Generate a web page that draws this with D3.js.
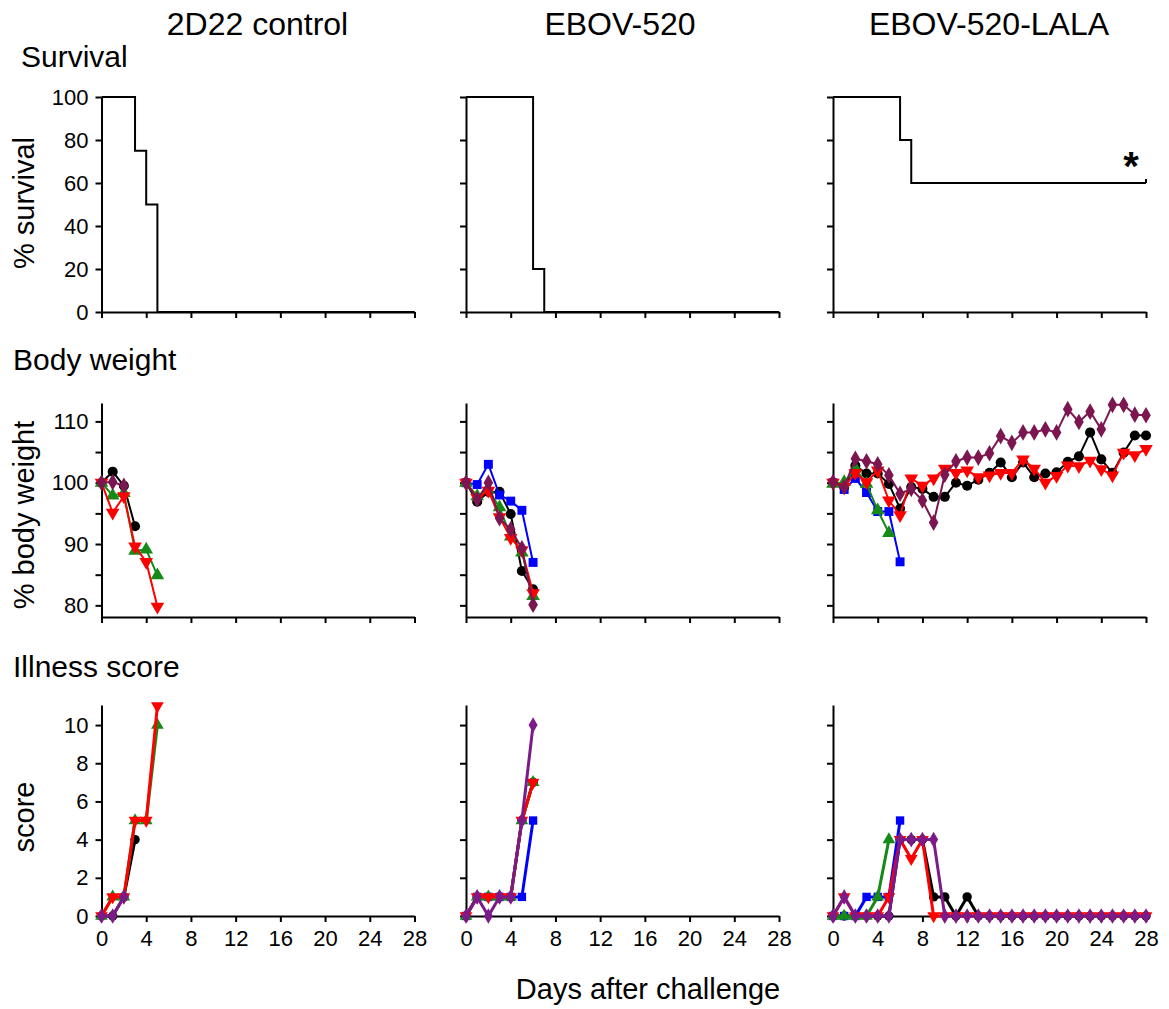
<!DOCTYPE html>
<html>
<head>
<meta charset="utf-8">
<script src="https://cdn.jsdelivr.net/npm/d3@7/dist/d3.min.js"></script>
<style>
body { margin: 0; background: #fff; }
text { font-family: Arial, "Liberation Sans", sans-serif; fill: #000; }
</style>
</head>
<body>
<svg id="viz" width="1169" height="1009"></svg>
<script>
// ---------- data (index of each value = day after challenge) ----------
const groups = ["2D22 control", "EBOV-520", "EBOV-520-LALA"];
const dayTicks = [0, 4, 8, 12, 16, 20, 24, 28];

// Kaplan-Meier steps
const survDays = [[0, 3, 4, 5, 28], [0, 6, 7, 28], [0, 6, 7, 28]];
const survPct = [[100, 75, 50, 0, 0], [100, 20, 0, 0], [100, 80, 60, 60]];
const survCensored = [false, false, true];
const survStar = ["", "", "*"];

// % body weight, 2D22 control
const bwCtrlBlack = [100, 101.8, 99.5, 92.9];
const bwCtrlGreen = [100, 97.9, 98.3, 88.9, 89.1, 84.9];
const bwCtrlRed = [100, 95.1, 97.8, 89.6, 87.1, 79.8];
const bwCtrlMaroon = [100, 100.1, 99.5];

// % body weight, EBOV-520
const bw520Black = [100, 96.9, 98.5, 98.5, 94.9, 85.6, 82.6];
const bw520Blue = [100, 99.7, 103.0, 98.0, 97.0, 95.5, 87.0];
const bw520Green = [100, 97.8, 98.8, 96.0, 91.2, 88.6, 81.5];
const bw520Red = [100, 97.5, 98.7, 94.4, 91.0, 89.0, 82.0];
const bw520Maroon = [100, 97.3, 100.0, 94.2, 92.4, 89.3, 80.1];

// % body weight, EBOV-520-LALA
const bwLalaBlack = [100, 99.3, 102.8, 101.5, 101.5, 99.8, 95.8, 99.3, 99.0, 97.7, 97.7, 100.0, 99.5, 100.5,
    101.6, 103.3, 100.9, 103.3, 100.9, 101.5, 101.7, 103.4, 104.3, 108.2, 103.8, 101.6, 104.9, 107.7, 107.7];
const bwLalaBlue = [100, 98.9, 100.7, 98.4, 95.3, 95.3, 87.1];
const bwLalaGreen = [99.8, 100.1, 102.3, 99.8, 95.5, 91.8];
const bwLalaRed = [100, 99.3, 101.6, 100.1, 102.0, 97.1, 94.7, 100.7, 99.5, 100.7, 102.3, 101.6, 102.0, 100.9,
    101.2, 101.6, 101.6, 103.8, 102.3, 100.0, 101.1, 102.8, 102.7, 103.6, 102.2, 101.2, 104.9, 104.5, 105.5];
const bwLalaMaroon = [100.1, 99.3, 103.9, 103.5, 103.0, 101.2, 98.2, 99.0, 97.1, 93.5, 101.3, 103.5, 104.1, 104.1,
    104.8, 107.6, 106.5, 108.2, 108.2, 108.7, 108.2, 112.0, 109.9, 111.6, 108.7, 112.7, 112.7, 111.1, 111.0];

// illness score, 2D22 control
const isCtrlBlack = [0, 0, 1, 4];
const isCtrlGreen = [0, 1, 1, 5, 5, 10];
const isCtrlRed = [0, 1, 1, 5, 5, 11];
const isCtrlPurple = [0, 0, 1];

// illness score, EBOV-520
const is520Black = [0, 1, 1, 1, 1, 5, 7];
const is520Blue = [0, 1, 1, 1, 1, 1, 5];
const is520Green = [0, 1, 1, 1, 1, 5, 7];
const is520Red = [0, 1, 1, 1, 1, 5, 7];
const is520Purple = [0, 1, 0, 1, 1, 5, 10];

// illness score, EBOV-520-LALA
const isLalaBlack = [0, 0, 0, 0, 0, 0, 4, 4, 4, 1, 1, 0, 1, 0, 0, 0, 0, 0, 0, 0, 0, 0, 0, 0, 0, 0, 0, 0, 0];
const isLalaBlue = [0, 0, 0, 1, 1, 1, 5];
const isLalaGreen = [0, 0, 0, 0, 1, 4];
const isLalaRed = [0, 1, 0, 0, 0, 1, 4, 3, 4, 0, 0, 0, 0, 0, 0, 0, 0, 0, 0, 0, 0, 0, 0, 0, 0, 0, 0, 0, 0];
const isLalaPurple = [0, 1, 0, 0, 0, 0, 4, 4, 4, 4, 0, 0, 0, 0, 0, 0, 0, 0, 0, 0, 0, 0, 0, 0, 0, 0, 0, 0, 0];

// ---------- styling / layout ----------
const FONT_TICK = 22;
const FONT_TITLE = 32;
const FONT_BIG = 29;
const COLORS = {
    black: "#000000", blue: "#0000ff", green: "#168a16",
    red: "#ff0000", maroon: "#7c1650", purple: "#7d1a8a"
};
const SHAPES = {
    black: d3.symbolCircle, blue: d3.symbolSquare, green: d3.symbolTriangle,
    red: d3.symbolTriangle, maroon: d3.symbolDiamond, purple: d3.symbolDiamond
};

const colX = [101.5, 466, 833];
const panelW = 313;

function animal(color, values) { return { color: color, values: values }; }

const bodyWeight = [
    [animal("black", bwCtrlBlack), animal("green", bwCtrlGreen), animal("red", bwCtrlRed), animal("maroon", bwCtrlMaroon)],
    [animal("black", bw520Black), animal("blue", bw520Blue), animal("green", bw520Green), animal("red", bw520Red), animal("maroon", bw520Maroon)],
    [animal("black", bwLalaBlack), animal("blue", bwLalaBlue), animal("green", bwLalaGreen), animal("red", bwLalaRed), animal("maroon", bwLalaMaroon)]
];
const illness = [
    [animal("black", isCtrlBlack), animal("green", isCtrlGreen), animal("red", isCtrlRed), animal("purple", isCtrlPurple)],
    [animal("black", is520Black), animal("blue", is520Blue), animal("green", is520Green), animal("red", is520Red), animal("purple", is520Purple)],
    [animal("black", isLalaBlack), animal("blue", isLalaBlue), animal("green", isLalaGreen), animal("red", isLalaRed), animal("purple", isLalaPurple)]
];

const rows = [
    { name: "Survival", label: "% survival", labelY: 203, nameY: 67, top: 97, bottom: 312,
      domain: [0, 100], ticks: [0, 20, 40, 60, 80, 100], shown: d => true },
    { name: "Body weight", label: "% body weight", labelY: 515, nameY: 370, top: 403, bottom: 617,
      domain: [78.1, 113], ticks: [80, 85, 90, 95, 100, 105, 110], shown: d => d % 10 === 0 },
    { name: "Illness score", label: "score", labelY: 817, nameY: 677, top: 705, bottom: 916,
      domain: [0, 11.05], ticks: [0, 2, 4, 6, 8, 10], shown: d => true }
];

const svg = d3.select("#viz");

// column titles
groups.forEach((g, c) => {
    svg.append("text")
        .attr("x", colX[c] + [156, 154, 156][c])
        .attr("y", 35)
        .attr("text-anchor", "middle")
        .style("font-size", FONT_TITLE + "px")
        .text(g);
});

rows.forEach((row, r) => {
    // row name and y label
    svg.append("text")
        .attr("x", r === 0 ? 21 : 13)
        .attr("y", row.nameY)
        .style("font-size", (FONT_BIG + 1) + "px")
        .text(row.name);

    svg.append("text")
        .attr("transform", "translate(34," + row.labelY + ") rotate(-90)")
        .attr("text-anchor", "middle")
        .style("font-size", FONT_BIG + "px")
        .text(row.label);

    groups.forEach((g, c) => {
        const x = d3.scaleLinear().domain([0, 28]).range([colX[c], colX[c] + panelW]);
        const y = d3.scaleLinear().domain(row.domain).range([row.bottom, row.top]);

        const panel = svg.append("g");

        // axes
        const xAxis = d3.axisBottom(x)
            .tickValues(dayTicks)
            .tickSize(6)
            .tickSizeOuter(0)
            .tickPadding(8)
            .tickFormat(r === 2 ? d3.format("d") : () => "");
        const yAxis = d3.axisLeft(y)
            .tickValues(row.ticks)
            .tickSize(6)
            .tickSizeOuter(0)
            .tickPadding(7)
            .tickFormat(d => (c === 0 && row.shown(d)) ? d : "");

        const gx = panel.append("g")
            .attr("transform", "translate(0," + row.bottom + ")")
            .call(xAxis);
        const gy = panel.append("g")
            .attr("transform", "translate(" + colX[c] + ",0)")
            .call(yAxis);

        [gx, gy].forEach(ax => {
            ax.selectAll("path, line").attr("stroke", "#000").attr("stroke-width", 2);
            ax.selectAll("text").style("font-size", FONT_TICK + "px").attr("fill", "#000");
        });

        if (r === 0) {
            // survival step line
            const pts = survDays[c].map((d, i) => [d, survPct[c][i]]);
            panel.append("path")
                .attr("d", d3.line().curve(d3.curveStepAfter)
                    .x(d => x(d[0])).y(d => y(d[1]))(pts))
                .attr("fill", "none")
                .attr("stroke", "#000")
                .attr("stroke-width", 2);

            if (survCensored[c]) {
                const last = pts[pts.length - 1];
                panel.append("line")
                    .attr("x1", x(last[0])).attr("x2", x(last[0]))
                    .attr("y1", y(last[1])).attr("y2", y(last[1]) - 4)
                    .attr("stroke", "#000").attr("stroke-width", 2);
            }
            if (survStar[c]) {
                const last = pts[pts.length - 1];
                panel.append("text")
                    .attr("x", x(last[0]) - 15)
                    .attr("y", y(last[1]) - 3)
                    .attr("text-anchor", "middle")
                    .style("font-size", "40px")
                    .style("font-weight", "bold")
                    .text(survStar[c]);
            }
            return;
        }

        const series = r === 1 ? bodyWeight[c] : illness[c];
        const lw = r === 1 ? 2 : 3;
        const msize = r === 1 ? 80 : 70;

        const line = d3.line()
            .x((d, i) => x(i))
            .y(d => y(d));

        series.forEach(s => {
            panel.append("path")
                .attr("d", line(s.values))
                .attr("fill", "none")
                .attr("stroke", COLORS[s.color])
                .attr("stroke-width", lw)
                .attr("stroke-linejoin", "round");

            panel.append("g")
                .selectAll("path")
                .data(s.values)
                .enter()
                .append("path")
                .attr("d", d3.symbol().type(SHAPES[s.color]).size(msize))
                .attr("transform", (d, i) =>
                    "translate(" + x(i) + "," + y(d) + ")" + (s.color === "red" ? " rotate(180)" : ""))
                .attr("fill", COLORS[s.color]);
        });
    });
});

// shared x title
svg.append("text")
    .attr("x", 648)
    .attr("y", 999)
    .attr("text-anchor", "middle")
    .style("font-size", FONT_BIG + "px")
    .text("Days after challenge");
</script>
</body>
</html>
